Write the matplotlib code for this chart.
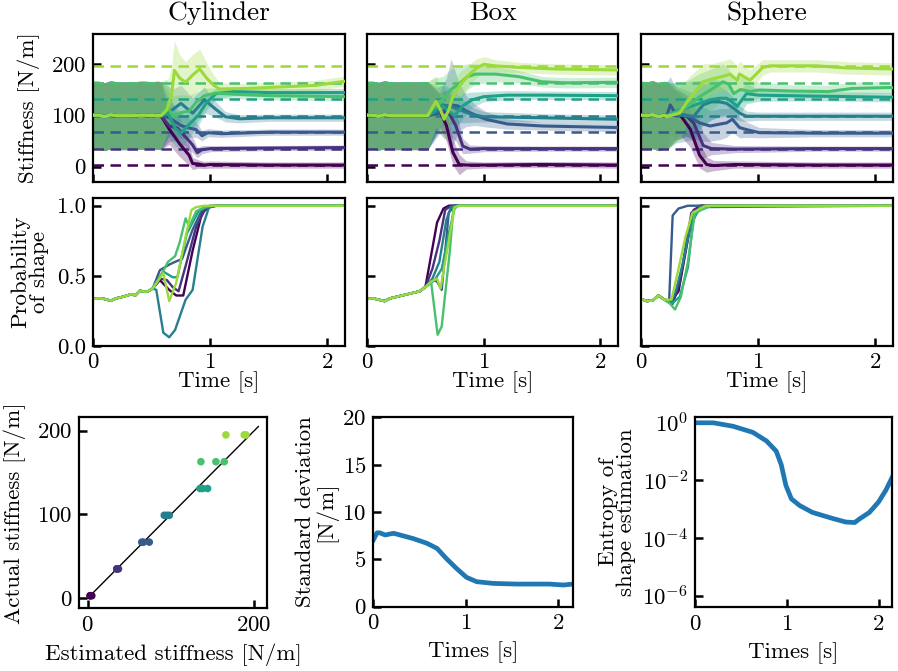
import numpy as np
import matplotlib
matplotlib.use("Agg")
import matplotlib.pyplot as plt

# ---------------- data ----------------
stiffness_levels = [3, 35, 67, 99, 131, 163, 195]
shape_names = ["Cylinder", "Box", "Sphere"]

# common prior segment of the stiffness estimate (per shape)
cyl_prior_t = [0, 0.05, 0.1, 0.15, 0.2, 0.25, 0.3, 0.35, 0.4, 0.45, 0.5, 0.55]
cyl_prior_v = [100, 100, 97, 101, 99, 99, 99, 99, 100, 100, 99, 100]
box_prior_t = [0, 0.05, 0.1, 0.15, 0.2, 0.25, 0.3, 0.35, 0.4, 0.45, 0.5]
box_prior_v = [100, 100, 98, 101, 99, 99, 99, 99, 99, 99, 99]
sph_prior_t = [0, 0.05, 0.1, 0.15, 0.2]
sph_prior_v = [100, 99, 101, 97, 100]
prior_sd = 66

# stiffness estimate after the prior: times, means, std (one list per stiffness level)
cyl_t = [
    [0.58, 0.65, 0.74, 0.82, 0.85, 0.9, 0.95, 1.0, 1.5, 2.15],
    [0.58, 0.65, 0.72, 0.78, 0.85, 0.89, 0.93, 1.0, 1.5, 2.15],
    [0.58, 0.65, 0.75, 0.82, 0.88, 0.93, 0.98, 1.1, 1.5, 2.15],
    [0.58, 0.68, 0.75, 0.85, 0.95, 1.05, 1.13, 1.25, 1.5, 2.15],
    [0.58, 0.64, 0.7, 0.75, 0.82, 0.9, 0.97, 1.05, 1.2, 1.5, 2.15],
    [0.58, 0.63, 0.68, 0.75, 0.82, 0.88, 0.95, 1.05, 1.2, 1.5, 2.15],
    [0.58, 0.63, 0.67, 0.695, 0.74, 0.79, 0.85, 0.91, 0.97, 1.03, 1.08, 1.3, 1.6, 1.9, 2.15],
]
cyl_v = [
    [99, 73, 44, 22, 6, 5, 3, 4, 3, 3],
    [99, 79, 75, 60, 42, 27, 33, 35, 36, 37],
    [99, 95, 80, 75, 72, 60, 66, 64, 67, 67],
    [99, 111, 123, 104, 130, 111, 97, 93, 95, 95],
    [99, 104, 75, 65, 82, 100, 125, 142, 146, 144, 144],
    [99, 120, 98, 105, 108, 125, 138, 143, 141, 138, 136],
    [99, 110, 140, 187, 172, 164, 178, 190, 172, 158, 151, 152, 155, 158, 166],
]
cyl_sd = [
    [66, 30, 25, 20, 12, 8, 7, 7, 6, 6],
    [66, 30, 25, 20, 15, 10, 8, 6, 5, 5],
    [66, 35, 25, 18, 15, 10, 8, 7, 6, 6],
    [66, 40, 35, 30, 25, 15, 10, 8, 7, 7],
    [66, 45, 35, 30, 25, 20, 15, 10, 8, 8, 8],
    [66, 50, 40, 35, 30, 20, 15, 10, 9, 8, 8],
    [66, 50, 55, 58, 45, 40, 40, 39, 30, 20, 12, 10, 10, 10, 10],
]
box_t = [
    [0.52, 0.62, 0.68, 0.735, 0.79, 0.85, 1.0, 1.5, 2.15],
    [0.52, 0.62, 0.7, 0.76, 0.82, 0.88, 1.0, 1.5, 2.15],
    [0.52, 0.62, 0.68, 0.72, 0.78, 0.85, 0.93, 1.02, 1.2, 1.5, 2.15],
    [0.52, 0.6, 0.65, 0.72, 0.8, 0.9, 1.0, 1.5, 2.15],
    [0.52, 0.6, 0.65, 0.7, 0.75, 0.82, 0.9, 1.0, 1.2, 1.5, 2.15],
    [0.52, 0.59, 0.65, 0.72, 0.79, 0.86, 0.93, 1.1, 1.3, 1.5, 1.7, 2.15],
    [0.52, 0.59, 0.63, 0.66, 0.7, 0.735, 0.8, 0.88, 0.94, 1.0, 1.1, 1.3, 1.6, 2.15],
]
box_v = [
    [99, 110, 80, 28, 4, 3, 3, 4, 3],
    [99, 108, 105, 80, 40, 34, 35, 35, 35],
    [99, 104, 112, 120, 118, 108, 100, 92, 83, 79, 76],
    [99, 108, 120, 117, 110, 101, 97, 95, 92],
    [99, 112, 118, 108, 99, 118, 130, 136, 139, 139, 138],
    [99, 123, 130, 150, 161, 175, 180, 180, 175, 165, 163, 164],
    [99, 127, 110, 92, 110, 136, 160, 180, 192, 199, 196, 193, 190, 188],
]
box_sd = [
    [66, 30, 30, 25, 20, 8, 6, 6, 6],
    [66, 35, 45, 30, 15, 8, 6, 5, 5],
    [66, 40, 60, 90, 50, 30, 20, 15, 10, 8, 8],
    [66, 45, 40, 35, 25, 15, 10, 8, 8],
    [66, 45, 40, 35, 30, 25, 15, 10, 9, 8, 8],
    [66, 50, 45, 40, 35, 25, 20, 15, 12, 10, 10, 10],
    [66, 50, 45, 40, 35, 30, 25, 20, 18, 15, 12, 10, 10, 10],
]
sph_t = [
    [0.22, 0.28, 0.33, 0.42, 0.5, 0.56, 0.62, 0.8, 1.5, 2.15],
    [0.22, 0.3, 0.38, 0.45, 0.53, 0.6, 0.8, 1.5, 2.15],
    [0.22, 0.25, 0.3, 0.4, 0.5, 0.59, 0.68, 0.73, 0.78, 0.84, 0.9, 1.01, 1.5, 2.15],
    [0.22, 0.3, 0.38, 0.45, 0.53, 0.6, 0.67, 0.73, 0.8, 0.84, 0.9, 1.0, 1.5, 2.15],
    [0.22, 0.3, 0.4, 0.5, 0.59, 0.67, 0.73, 0.78, 0.82, 0.9, 1.0, 1.5, 2.15],
    [0.22, 0.3, 0.4, 0.5, 0.6, 0.7, 0.75, 0.79, 0.85, 0.93, 1.01, 1.3, 1.6, 1.8, 2.15],
    [0.22, 0.28, 0.33, 0.39, 0.46, 0.53, 0.6, 0.67, 0.72, 0.76, 0.82, 0.84, 0.9, 0.93,
     1.04, 1.1, 1.5, 1.75, 2.15],
]
sph_v = [
    [99, 100, 102, 73, 22, 4, 2, 4, 3, 3],
    [99, 101, 100, 85, 41, 35, 34, 35, 35],
    [99, 120, 101, 99, 85, 79, 83, 85, 92, 76, 72, 66, 65, 65],
    [99, 101, 99, 98, 120, 126, 126, 123, 112, 104, 98, 98, 98, 98],
    [99, 108, 115, 123, 130, 133, 133, 125, 117, 142, 139, 137, 135],
    [99, 105, 118, 136, 150, 165, 160, 142, 150, 146, 149, 147, 146, 152, 154],
    [97, 101, 104, 125, 145, 165, 170, 174, 177, 180, 168, 180, 172, 168, 193, 196, 196, 192, 190],
]
sph_sd = [
    [66, 50, 40, 35, 25, 15, 10, 7, 6, 6],
    [66, 50, 40, 35, 25, 12, 7, 5, 5],
    [66, 55, 50, 40, 35, 30, 30, 28, 25, 20, 15, 10, 7, 7],
    [66, 55, 50, 45, 40, 35, 30, 25, 20, 15, 10, 8, 8, 8],
    [66, 55, 50, 45, 40, 35, 30, 25, 25, 20, 12, 9, 9],
    [66, 55, 50, 45, 40, 35, 30, 25, 25, 20, 15, 12, 12, 12, 12],
    [66, 55, 50, 45, 40, 35, 30, 30, 30, 30, 28, 25, 22, 20, 15, 12, 12, 12, 12],
]

# probability of the true shape
cyl_pprior_t = [0, 0.05, 0.1, 0.15, 0.2, 0.25, 0.29, 0.33, 0.36, 0.4, 0.44, 0.47, 0.51]
cyl_pprior_p = [0.335, 0.34, 0.335, 0.323, 0.34, 0.35, 0.36, 0.37, 0.36, 0.394, 0.387, 0.39, 0.41]
box_pprior_t = [0, 0.05, 0.1, 0.15, 0.2, 0.25, 0.3, 0.35, 0.4, 0.45, 0.5]
box_pprior_p = [0.335, 0.34, 0.33, 0.32, 0.34, 0.35, 0.36, 0.37, 0.38, 0.39, 0.42]
sph_pprior_t = [0, 0.05, 0.1, 0.15, 0.2]
sph_pprior_p = [0.335, 0.32, 0.325, 0.36, 0.33]

cyl_pt = [
    [0.51, 0.57, 0.65, 0.71, 0.77, 0.85, 0.93, 0.99, 1.05, 2.15],
    [0.51, 0.57, 0.63, 0.68, 0.73, 0.79, 0.88, 0.96, 1.05, 2.15],
    [0.51, 0.57, 0.65, 0.7, 0.76, 0.85, 0.93, 1.0, 2.15],
    [0.51, 0.54, 0.6, 0.65, 0.7, 0.79, 0.85, 0.935, 0.99, 1.05, 2.15],
    [0.51, 0.6, 0.68, 0.72, 0.8, 0.9, 0.97, 1.05, 2.15],
    [0.51, 0.59, 0.64, 0.7, 0.74, 0.79, 0.82, 0.88, 0.95, 1.0, 2.15],
    [0.51, 0.6, 0.65, 0.71, 0.79, 0.84, 0.88, 0.95, 2.15],
]
cyl_pp = [
    [0.41, 0.47, 0.4, 0.36, 0.36, 0.68, 0.95, 0.99, 1, 1],
    [0.41, 0.48, 0.47, 0.42, 0.39, 0.57, 0.85, 0.98, 1, 1],
    [0.41, 0.54, 0.58, 0.6, 0.62, 0.83, 0.97, 1, 1],
    [0.41, 0.4, 0.095, 0.062, 0.114, 0.33, 0.4, 0.85, 0.99, 1, 1],
    [0.41, 0.53, 0.49, 0.49, 0.8, 0.96, 0.99, 1, 1],
    [0.41, 0.52, 0.6, 0.64, 0.74, 0.91, 0.85, 0.96, 0.99, 1, 1],
    [0.41, 0.52, 0.32, 0.45, 0.78, 0.97, 0.99, 1.0, 1.0],
]
box_pt = [
    [0.5, 0.55, 0.6, 0.655, 0.7, 2.15],
    [0.5, 0.56, 0.62, 0.67, 0.72, 2.15],
    [0.5, 0.56, 0.6, 0.64, 0.7, 0.75, 2.15],
    [0.5, 0.56, 0.62, 0.68, 0.72, 0.76, 2.15],
    [0.5, 0.58, 0.64, 0.7, 0.75, 0.78, 2.15],
    [0.5, 0.55, 0.605, 0.64, 0.68, 0.71, 0.74, 0.78, 2.15],
    [0.5, 0.55, 0.6, 0.63, 0.7, 0.75, 0.8, 2.15],
]
box_pp = [
    [0.42, 0.65, 0.88, 0.98, 1, 1],
    [0.42, 0.55, 0.75, 0.97, 1, 1],
    [0.42, 0.47, 0.46, 0.40, 0.95, 1, 1],
    [0.42, 0.48, 0.6, 0.9, 0.99, 1, 1],
    [0.42, 0.47, 0.55, 0.8, 0.98, 1, 1],
    [0.42, 0.45, 0.08, 0.14, 0.45, 0.68, 0.98, 1, 1],
    [0.42, 0.46, 0.48, 0.41, 0.75, 0.99, 1, 1],
]
sph_pt = [
    [0.2, 0.26, 0.32, 0.4, 0.45, 0.52, 2.15],
    [0.2, 0.27, 0.33, 0.38, 0.43, 0.5, 2.15],
    [0.2, 0.24, 0.27, 0.32, 0.4, 2.15],
    [0.2, 0.26, 0.3, 0.36, 0.42, 0.5, 2.15],
    [0.2, 0.26, 0.33, 0.4, 0.45, 0.55, 2.15],
    [0.2, 0.25, 0.29, 0.34, 0.4, 0.46, 0.6, 2.15],
    [0.2, 0.26, 0.32, 0.38, 0.44, 0.55, 2.15],
]
sph_pp = [
    [0.33, 0.32, 0.39, 0.76, 0.97, 1, 1],
    [0.33, 0.3, 0.45, 0.7, 0.95, 1, 1],
    [0.33, 0.32, 0.93, 0.98, 1, 1],
    [0.33, 0.32, 0.4, 0.6, 0.85, 0.99, 1],
    [0.33, 0.3, 0.35, 0.56, 0.93, 1, 1],
    [0.33, 0.3, 0.26, 0.35, 0.6, 0.95, 1, 1],
    [0.33, 0.33, 0.55, 0.78, 0.95, 1, 1],
]

# scatter: estimated stiffness per (level, shape)
est_cylinder = [3, 37, 67, 95, 144, 136, 166]
est_box = [3, 35, 74, 92, 138, 164, 188]
est_sphere = [5, 35, 65, 98, 135, 154, 190]
diag_range = [0, 205]

# std deviation and entropy over time
std_t = [0, 0.04, 0.07, 0.13, 0.18, 0.22, 0.29, 0.43, 0.58, 0.69, 0.79, 0.9, 1.01,
         1.12, 1.3, 1.55, 1.91, 2.06, 2.16]
std_v = [7.04, 7.8, 7.8, 7.57, 7.68, 7.75, 7.57, 7.2, 6.7, 6.16, 5.1, 4.05, 3.1,
         2.64, 2.46, 2.39, 2.39, 2.29, 2.39]
ent_t = [0, 0.2, 0.415, 0.63, 0.78, 0.885, 0.94, 0.99, 1.05, 1.14, 1.28, 1.5, 1.64,
         1.74, 1.79, 1.9, 2.0, 2.08, 2.15]
ent_v = [0.955, 0.955, 0.724, 0.447, 0.224, 0.1, 0.0339, 0.0066, 0.00224, 0.00132,
         0.00076, 0.00047, 0.000355, 0.000339, 0.000447, 0.00076, 0.00174, 0.00447, 0.0126]

# ---------------- style ----------------
plt.rcParams.update({
    "font.family": "serif",
    "font.serif": ["cmr10", "DejaVu Serif"],
    "mathtext.fontset": "cm",
    "axes.formatter.use_mathtext": True,
    "font.size": 16.5,
    "axes.linewidth": 1.6,
    "xtick.direction": "in",
    "ytick.direction": "in",
    "xtick.major.size": 6,
    "ytick.major.size": 6,
    "xtick.major.width": 1.8,
    "ytick.major.width": 1.8,
    "xtick.major.pad": 5,
    "ytick.major.pad": 5,
})

colors = plt.cm.viridis(np.linspace(0, 0.85, len(stiffness_levels)))
XMAX = 2.15

fig = plt.figure(figsize=(8.98, 6.71), dpi=100)

W, H = 898.0, 671.0
def box(x0, y0, x1, y1):
    return [x0 / W, 1 - y1 / H, (x1 - x0) / W, (y1 - y0) / H]

top_boxes = [box(93, 34, 345, 182), box(367, 34, 618, 182), box(641, 34, 893, 182)]
mid_boxes = [box(93, 198, 345, 346), box(367, 198, 618, 346), box(641, 198, 893, 346)]

prior_ts = [cyl_prior_t, box_prior_t, sph_prior_t]
prior_vs = [cyl_prior_v, box_prior_v, sph_prior_v]
all_t = [cyl_t, box_t, sph_t]
all_v = [cyl_v, box_v, sph_v]
all_sd = [cyl_sd, box_sd, sph_sd]
pprior_ts = [cyl_pprior_t, box_pprior_t, sph_pprior_t]
pprior_ps = [cyl_pprior_p, box_pprior_p, sph_pprior_p]
all_pt = [cyl_pt, box_pt, sph_pt]
all_pp = [cyl_pp, box_pp, sph_pp]

for s in range(3):
    ax = fig.add_axes(top_boxes[s])
    for k, lvl in enumerate(stiffness_levels):
        t = np.array(prior_ts[s] + all_t[s][k])
        v = np.array(prior_vs[s] + all_v[s][k])
        sd = np.array([prior_sd] * len(prior_ts[s]) + all_sd[s][k])
        ax.fill_between(t, v - sd, v + sd, color=colors[k], alpha=0.28, lw=0, zorder=1)
    for k, lvl in enumerate(stiffness_levels):
        ax.axhline(lvl, color=colors[k], lw=1.8, ls=(0, (4.2, 2.6)), zorder=2)
    for k, lvl in enumerate(stiffness_levels):
        t = np.array(prior_ts[s] + all_t[s][k])
        v = np.array(prior_vs[s] + all_v[s][k])
        ax.plot(t, v, color=colors[k], lw=2.2, zorder=3)
    ax.set_xlim(0, XMAX)
    ax.set_ylim(-30, 258)
    ax.set_xticks([0, 1, 2])
    ax.set_xticklabels([])
    ax.set_yticks([0, 100, 200])
    if s == 0:
        ax.set_ylabel("Stiffness [N/m]", labelpad=8)
    else:
        ax.set_yticklabels([])
    ax.set_title(shape_names[s], pad=10)

    axp = fig.add_axes(mid_boxes[s])
    for k, lvl in enumerate(stiffness_levels):
        t = pprior_ts[s] + all_pt[s][k]
        p = pprior_ps[s] + all_pp[s][k]
        axp.plot(t, p, color=colors[k], lw=1.7)
    axp.set_xlim(0, XMAX)
    axp.set_ylim(0, 1.055)
    axp.set_xticks([0, 1, 2])
    axp.set_yticks([0, 0.5, 1.0])
    axp.set_xlabel("Time [s]", labelpad=-1)
    if s == 0:
        axp.set_yticklabels(["0.0", "0.5", "1.0"])
        axp.set_ylabel("Probability\nof shape", linespacing=0.95, labelpad=6)
    else:
        axp.set_yticklabels([])

# scatter
ax = fig.add_axes(box(79.3, 417.3, 266.7, 608.3))
for est in (est_cylinder, est_box, est_sphere):
    ax.scatter(est, stiffness_levels, c=colors, s=30, zorder=3, linewidths=0)
ax.plot(diag_range, diag_range, color="black", lw=1.0, zorder=2)
ax.set_xlim(-10, 215)
ax.set_ylim(-12, 216)
ax.set_xticks([0, 200])
ax.set_yticks([0, 100, 200])
ax.set_xlabel("Estimated stiffness [N/m]", labelpad=6)
ax.set_ylabel("Actual stiffness [N/m]", labelpad=8)

# standard deviation
ax = fig.add_axes(box(373.3, 417.3, 572.7, 606.7))
ax.plot(std_t, std_v, color="#1f77b4", lw=3.4)
ax.set_xlim(0, 2.16)
ax.set_ylim(0, 20)
ax.set_xticks([0, 1, 2])
ax.set_yticks([0, 5, 10, 15, 20])
ax.set_xlabel("Times [s]", labelpad=6)
ax.set_ylabel("Standard deviation\n[N/m]", linespacing=0.95, labelpad=4)

# entropy
ax = fig.add_axes(box(695, 417.3, 892.3, 607.3))
ax.plot(ent_t, ent_v, color="#1f77b4", lw=3.4)
ax.set_yscale("log")
ax.set_xlim(0, 2.15)
ax.set_ylim(10 ** -6.4, 10 ** 0.17)
ax.set_xticks([0, 1, 2])
ax.set_yticks([1e0, 1e-2, 1e-4, 1e-6])
ax.yaxis.set_minor_locator(matplotlib.ticker.NullLocator())
ax.set_xlabel("Times [s]", labelpad=6)
ax.set_ylabel("Entropy of\nshape estimation", linespacing=0.95, labelpad=4)

fig.savefig("out.png", dpi=100)
